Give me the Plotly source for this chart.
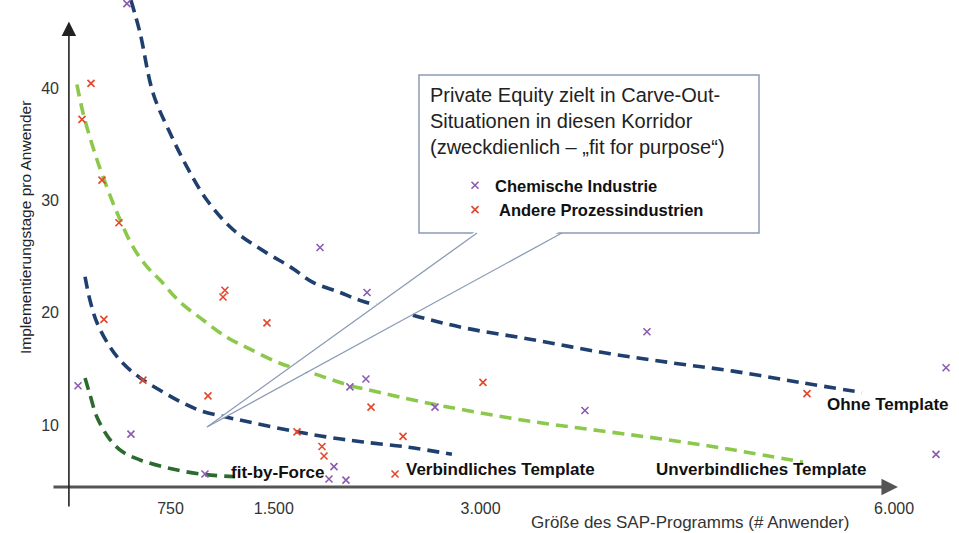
import plotly.graph_objects as go

# ---------------- data (x = Anwender, y = Implementierungstage pro Anwender) ----------------
chem_x = [434, 79, 463, 1000, 1835, 2176, 2168, 2052, 2669, 1936, 1900, 2023, 4207, 3757, 6377, 6304]
chem_y = [47.5, 13.5, 9.2, 5.65, 25.8, 21.8, 14.1, 13.4, 11.6, 6.3, 5.2, 5.1, 18.3, 11.3, 15.1, 7.4]

proz_x = [173, 108, 253, 376, 1145, 1131, 267, 550, 1022, 1450, 1668, 1849, 1864, 2205, 2437, 2379, 3017, 5368]
proz_y = [40.4, 37.2, 31.8, 28.0, 22.0, 21.4, 19.4, 14.0, 12.6, 19.1, 9.4, 8.1, 7.25, 11.6, 9.0, 5.65, 13.8, 12.8]

ohne_x = [463, 529, 623, 746, 870, 1015, 1203, 1450, 1617, 1784, 1980, 2125, 2560, 2901, 3380, 3866, 4352, 4831, 5317, 5767]
ohne_y = [47.8, 44.9, 39.55, 36.0, 32.96, 30.0, 27.4, 25.3, 24.1, 22.7, 21.8, 21.1, 19.6, 18.6, 17.6, 16.5, 15.6, 14.8, 13.8, 12.9]

unverb_x = [71, 115, 188, 260, 362, 478, 579, 674, 819, 986, 1160, 1305, 1544, 1784, 2031, 2270, 2560, 2901, 3380, 3866, 4352, 4831, 5339]
unverb_y = [40.3, 37.8, 34.7, 32.1, 28.9, 25.85, 24.1, 22.9, 20.95, 19.35, 17.8, 16.9, 15.5, 14.6, 13.6, 12.9, 12.1, 11.3, 10.3, 9.5, 8.7, 7.8, 6.7]

verb_x = [130, 166, 217, 311, 405, 529, 674, 819, 964, 1160, 1349, 1668, 1907, 2147, 2466, 2792]
verb_y = [23.2, 21.1, 19.1, 16.95, 15.5, 14.2, 13.1, 12.1, 11.3, 10.7, 10.2, 9.4, 8.9, 8.5, 8.05, 7.4]

force_x = [130, 166, 217, 311, 405, 529, 725, 964, 1218]
force_y = [14.2, 12.7, 10.7, 8.7, 7.6, 6.9, 6.2, 5.65, 5.4]

x_tickvals = [750, 1500, 3000, 6000]
x_ticktext = ["750", "1.500", "3.000", "6.000"]
y_tickvals = [10, 20, 30, 40]

# ---------------- styles ----------------
FONT = "Liberation Sans, Arial, sans-serif"
DARK_BLUE = "#1f3f6f"
LIGHT_GREEN = "#8cc84b"
DARK_GREEN = "#2c6b2f"
PURPLE = "#8a5cb2"
RED = "#e4472b"
DASH = "12px,7px"

X_RANGE = [-487, 6471]
Y_RANGE = [0.40, 47.82]

fig = go.Figure()

curves = [
    (ohne_x, ohne_y, DARK_BLUE),
    (unverb_x, unverb_y, LIGHT_GREEN),
    (verb_x, verb_y, DARK_BLUE),
    (force_x, force_y, DARK_GREEN),
]
for cx, cy, col in curves:
    fig.add_trace(go.Scatter(x=cx, y=cy, mode="lines", line=dict(color=col, width=3.6, dash=DASH, shape="spline"),
                             showlegend=False, hoverinfo="skip", cliponaxis=False))

fig.add_trace(go.Scatter(x=chem_x, y=chem_y, mode="markers", name="<b>Chemische Industrie</b>",
                         marker=dict(symbol="x-thin", size=7, color=PURPLE, line=dict(width=1.6, color=PURPLE)),
                         legendgroup="a", cliponaxis=False))
fig.add_trace(go.Scatter(x=proz_x, y=proz_y, mode="markers", name="<b> Andere Prozessindustrien</b>",
                         marker=dict(symbol="x-thin", size=7, color=RED, line=dict(width=1.6, color=RED)),
                         legendgroup="b", cliponaxis=False))

# ---------------- callout ----------------
BOX = dict(x0=2553, x1=5020, y0=27.09, y1=41.15)
WEDGE_BASE_L = (2974, 27.09)
WEDGE_BASE_R = (3590, 27.09)
WEDGE_TIP = (1015, 9.83)
BORDER = "#8b9bb7"

shapes = [
    dict(type="rect", xref="x", yref="y", **BOX, line=dict(color=BORDER, width=1.5), fillcolor="white", layer="above"),
    dict(type="path", xref="x", yref="y",
         path=f"M {WEDGE_BASE_L[0]},{WEDGE_BASE_L[1] + 0.25} L {WEDGE_TIP[0]},{WEDGE_TIP[1]} L {WEDGE_BASE_R[0]},{WEDGE_BASE_R[1] + 0.25} Z",
         fillcolor="white", line=dict(width=0), layer="above"),
    dict(type="line", xref="x", yref="y", x0=WEDGE_BASE_L[0], y0=WEDGE_BASE_L[1], x1=WEDGE_TIP[0], y1=WEDGE_TIP[1],
         line=dict(color=BORDER, width=1.3), layer="above"),
    dict(type="line", xref="x", yref="y", x0=WEDGE_BASE_R[0], y0=WEDGE_BASE_R[1], x1=WEDGE_TIP[0], y1=WEDGE_TIP[1],
         line=dict(color=BORDER, width=1.3), layer="above"),
]

LABEL_FONT = dict(family=FONT, size=17, color="#111111")

annotations = [
    # axis arrows
    dict(x=6028, y=4.49, ax=-110, ay=4.49, xref="x", yref="y", axref="x", ayref="y", text="",
         showarrow=True, arrowhead=2, arrowsize=1.1, arrowwidth=3, arrowcolor="#555555", standoff=0),
    dict(x=13, y=45.9, ax=13, ay=2.62, xref="x", yref="y", axref="x", ayref="y", text="",
         showarrow=True, arrowhead=2, arrowsize=1.8, arrowwidth=1.6, arrowcolor="#222222", standoff=0),
    # callout text
    dict(x=2619, y=40.5, xref="x", yref="y", xanchor="left", yanchor="top", align="left", showarrow=False,
         text="Private Equity zielt in Carve-Out-<br>Situationen in diesen Korridor<br>(zweckdienlich – „fit for purpose“)",
         font=dict(family=FONT, size=20, color="#222222")),
    # curve labels
    dict(x=5956, y=11.79, xref="x", yref="y", xanchor="center", yanchor="middle", text="<b>Ohne Template</b>",
         showarrow=False, font=LABEL_FONT),
    dict(x=5034, y=6.01, xref="x", yref="y", xanchor="center", yanchor="middle", text="<b>Unverbindliches Template</b>",
         showarrow=False, font=LABEL_FONT),
    dict(x=3141, y=6.01, xref="x", yref="y", xanchor="center", yanchor="middle", text="<b>Verbindliches Template</b>",
         showarrow=False, font=LABEL_FONT),
    dict(x=1530, y=5.74, xref="x", yref="y", xanchor="center", yanchor="middle", text="<b>fit-by-Force</b>",
         showarrow=False, font=LABEL_FONT),
    # axis titles
    dict(x=25 / 959, y=1 - 228 / 533, xref="paper", yref="paper", xanchor="center", yanchor="middle",
         text="Implementierungstage pro Anwender", textangle=-90, showarrow=False,
         font=dict(family=FONT, size=15.5, color="#222222")),
    dict(x=690 / 959, y=1 - 522 / 533, xref="paper", yref="paper", xanchor="center", yanchor="middle",
         text="Größe des SAP-Programms (# Anwender)", showarrow=False,
         font=dict(family=FONT, size=17, color="#333333")),
]

fig.update_layout(
    template="none",
    width=959, height=533, autosize=False,
    margin=dict(l=0, r=0, t=0, b=0),
    paper_bgcolor="white", plot_bgcolor="white",
    showlegend=True,
    legend=dict(x=455 / 959, y=1 - 168 / 533, xanchor="left", yanchor="top", bgcolor="rgba(0,0,0,0)",
                borderwidth=0, traceorder="grouped", tracegroupgap=0,
                font=dict(family=FONT, size=16.5, color="#111111")),
    xaxis=dict(range=X_RANGE, domain=[0, 1], anchor="free", position=1 - 487 / 533, showline=False,
               showgrid=False, zeroline=False, ticks="", tickvals=x_tickvals, ticktext=x_ticktext,
               ticklabelstandoff=10, automargin=False, fixedrange=True,
               tickfont=dict(family=FONT, size=16, color="#333333")),
    yaxis=dict(range=Y_RANGE, domain=[0, 1], anchor="free", position=69 / 959, showline=False,
               showgrid=False, zeroline=False, ticks="", tickvals=y_tickvals,
               ticklabelstandoff=10, automargin=False, fixedrange=True,
               tickfont=dict(family=FONT, size=16, color="#333333")),
    shapes=shapes,
    annotations=annotations,
)

fig.write_html("out.html", config={"displayModeBar": False},
               post_script="document.body.style.margin='0';document.body.style.overflow='hidden';")
